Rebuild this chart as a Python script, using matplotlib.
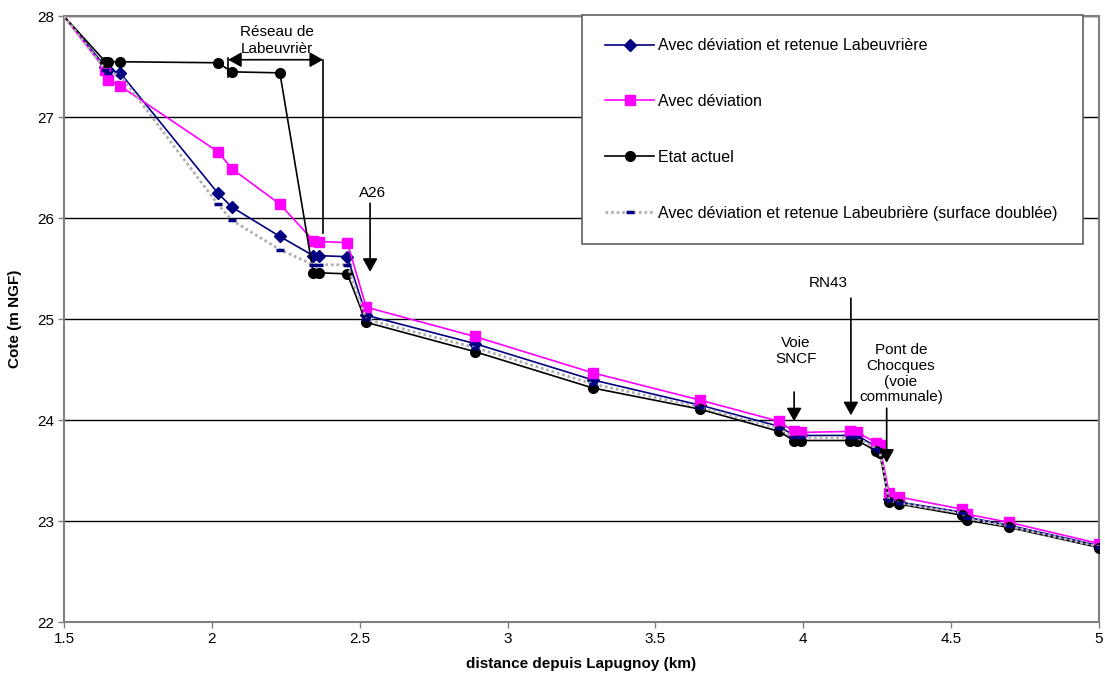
import matplotlib
matplotlib.use("Agg")
import matplotlib.pyplot as plt

plt.rcParams['font.family'] = ['Liberation Sans', 'DejaVu Sans']

# distances (km)
x_km = [1.5, 1.64, 1.65, 1.69, 2.02, 2.068, 2.23, 2.343, 2.363, 2.458, 2.522,
        2.889, 3.288, 3.651, 3.918, 3.968, 3.992, 4.157, 4.182, 4.245, 4.258,
        4.29, 4.325, 4.537, 4.554, 4.695, 5.0]

retenue = [28.0, 27.50, 27.47, 27.44, 26.25, 26.11, 25.82, 25.63, 25.63, 25.62, 25.04,
           24.76, 24.40, 24.15, 23.94, 23.85, 23.85, 23.85, 23.85, 23.74, 23.72,
           23.22, 23.19, 23.09, 23.04, 22.96, 22.76]

deviation = [28.0, 27.47, 27.37, 27.31, 26.66, 26.49, 26.14, 25.78, 25.77, 25.76, 25.12,
             24.83, 24.47, 24.20, 23.99, 23.89, 23.88, 23.89, 23.88, 23.78, 23.76,
             23.28, 23.24, 23.12, 23.07, 22.99, 22.78]

actuel = [28.0, 27.55, 27.55, 27.55, 27.54, 27.45, 27.44, 25.46, 25.46, 25.45, 24.97,
          24.68, 24.32, 24.11, 23.89, 23.80, 23.80, 23.80, 23.80, 23.70, 23.68,
          23.19, 23.17, 23.06, 23.01, 22.94, 22.74]

double = [28.0, 27.47, 27.44, 27.42, 26.14, 25.98, 25.69, 25.54, 25.54, 25.54, 25.00,
          24.72, 24.36, 24.13, 23.92, 23.83, 23.83, 23.83, 23.83, 23.72, 23.70,
          23.21, 23.18, 23.08, 23.03, 22.95, 22.75]

labels = ["Avec déviation et retenue Labeuvrière",
          "Avec déviation",
          "Etat actuel",
          "Avec déviation et retenue Labeubrière (surface doublée)"]

x_ticks = [1.5, 2, 2.5, 3, 3.5, 4, 4.5, 5]
y_ticks = [22, 23, 24, 25, 26, 27, 28]

FS = 11

fig = plt.figure(figsize=(11.05, 6.81), dpi=100)
ax = fig.add_axes([64/1105, 1-622.3/681, (1099-64)/1105, (622.3-16.3)/681])

ax.set_xlim(1.5, 5)
ax.set_ylim(22, 28)
ax.set_xticks(x_ticks)
ax.set_xticklabels([f"{t:g}" for t in x_ticks])
ax.set_yticks(y_ticks)
ax.yaxis.grid(True, color='black', linewidth=1)
ax.set_axisbelow(True)
for s in ax.spines.values():
    s.set_color('#808080')
    s.set_linewidth(1.5)
ax.tick_params(axis='both', colors='#808080', labelcolor='black', labelsize=FS,
               length=4, width=1, pad=3)

mk = list(range(1, len(x_km)))
ax.plot(x_km, retenue, color='#000080', marker='D', markersize=6.5, lw=1.2,
        markevery=mk, label=labels[0], zorder=3)
ax.plot(x_km, deviation, color='#ff00ff', marker='s', markersize=7, lw=1.2,
        markevery=mk, label=labels[1], zorder=4)
ax.plot(x_km, actuel, color='black', marker='o', markersize=7, lw=1.2,
        markevery=mk, label=labels[2], zorder=5)
ax.plot(x_km, double, color='#b0b0b0', linestyle=(0, (1, 1)), lw=2.0,
        marker='_', markersize=6, markeredgewidth=2.5, markeredgecolor='#000080',
        markevery=mk, label=labels[3], zorder=6)

ax.set_xlabel("distance depuis Lapugnoy (km)", fontweight='bold', fontsize=FS, labelpad=8)
ax.set_ylabel("Cote (m NGF)", fontweight='bold', fontsize=FS)
ax.yaxis.set_label_coords(-42/1035, 0.5)

ahead = '-|>,head_length=0.8,head_width=0.45'
aprops = dict(arrowstyle=ahead, color='black', lw=1.2, mutation_scale=10,
              shrinkA=0, shrinkB=0)

# Réseau de Labeuvrière
ax.annotate("", xy=(2.376, 27.57), xytext=(2.055, 27.57),
            arrowprops=dict(arrowstyle='<|-|>,head_length=0.8,head_width=0.45',
                            color='black', lw=1.2, mutation_scale=10,
                            shrinkA=0, shrinkB=0), zorder=7)
ax.plot([2.055, 2.055], [27.59, 27.40], color='black', lw=1.2, zorder=7)
ax.plot([2.376, 2.376], [27.57, 25.855], color='black', lw=1.2, zorder=7)
ax.text(2.22, 27.76, "Réseau de\nLabeuvrièr", ha='center', va='center',
        fontsize=FS, linespacing=1.2, zorder=7)

# A26
ax.annotate("", xy=(2.535, 25.47), xytext=(2.535, 26.15), arrowprops=aprops, zorder=7)
ax.text(2.545, 26.25, "A26", ha='center', va='center', fontsize=FS)

# Voie SNCF
ax.annotate("", xy=(3.969, 23.99), xytext=(3.969, 24.28), arrowprops=aprops, zorder=7)
ax.text(3.975, 24.69, "Voie\nSNCF", ha='center', va='center', fontsize=FS, linespacing=1.2)

# RN43
ax.annotate("", xy=(4.161, 24.05), xytext=(4.161, 25.21), arrowprops=aprops, zorder=7)
ax.text(4.084, 25.36, "RN43", ha='center', va='center', fontsize=FS)

# Pont de Chocques
ax.annotate("", xy=(4.282, 23.58), xytext=(4.282, 24.12), arrowprops=aprops, zorder=7)
ax.text(4.33, 24.46, "Pont de\nChocques\n(voie\ncommunale)", ha='center', va='center',
        fontsize=FS, linespacing=1.15)

LFS = 11.5
leg = fig.legend(loc='upper left',
                 bbox_to_anchor=(582/1105, 1-15/681-0.01, (1083-582)/1105, 0.01),
                 mode='expand', fontsize=LFS, labelspacing=2.56, borderpad=1.45,
                 handlelength=3.06, handletextpad=0.25, fancybox=False, framealpha=1,
                 edgecolor='#606060', borderaxespad=0)
leg.get_frame().set_linewidth(1.2)

fig.savefig("out.png", dpi=100)
